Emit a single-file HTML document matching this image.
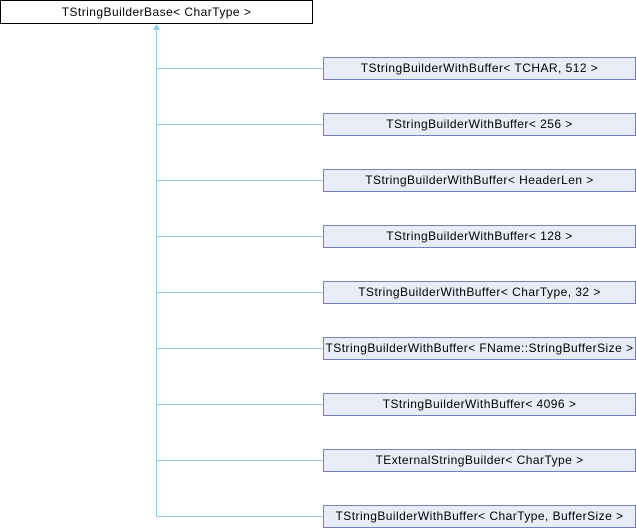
<!DOCTYPE html>
<html><head><meta charset="utf-8"><style>
body{margin:0;background:#fff;width:636px;height:528px;overflow:hidden;position:relative;font-family:"Liberation Sans",sans-serif;font-size:12px;letter-spacing:0.45px;}
.b{position:absolute;box-sizing:border-box;height:23px;line-height:21px;text-align:center;white-space:nowrap;color:#000;}
.c{left:323px;width:313px;background:#e8ecf6;border:1px solid #7282bc;}
.t{left:0;top:0;width:313px;height:24px;line-height:22px;background:#fff;border:1px solid #000;}
</style></head><body>
<svg width="636" height="528" style="position:absolute;left:0;top:0">
<g stroke="#8ecbec" stroke-width="1" fill="none">
<line x1="156.5" y1="30" x2="156.5" y2="516"/>
<line x1="156" y1="68.5" x2="323" y2="68.5"/>
<line x1="156" y1="124.5" x2="323" y2="124.5"/>
<line x1="156" y1="180.5" x2="323" y2="180.5"/>
<line x1="156" y1="236.5" x2="323" y2="236.5"/>
<line x1="156" y1="292.5" x2="323" y2="292.5"/>
<line x1="156" y1="348.5" x2="323" y2="348.5"/>
<line x1="156" y1="404.5" x2="323" y2="404.5"/>
<line x1="156" y1="460.5" x2="323" y2="460.5"/>
<line x1="156" y1="516.5" x2="323" y2="516.5"/>
</g>
<polygon points="156.5,24 153,30 160,30" fill="#8ecbec"/>
</svg>
<div class="b t">TStringBuilderBase&lt; CharType &gt;</div>
<div class="b c" style="top:57px">TStringBuilderWithBuffer&lt; TCHAR, 512 &gt;</div>
<div class="b c" style="top:113px">TStringBuilderWithBuffer&lt; 256 &gt;</div>
<div class="b c" style="top:169px">TStringBuilderWithBuffer&lt; HeaderLen &gt;</div>
<div class="b c" style="top:225px">TStringBuilderWithBuffer&lt; 128 &gt;</div>
<div class="b c" style="top:281px">TStringBuilderWithBuffer&lt; CharType, 32 &gt;</div>
<div class="b c" style="top:337px">TStringBuilderWithBuffer&lt; FName::StringBufferSize &gt;</div>
<div class="b c" style="top:393px">TStringBuilderWithBuffer&lt; 4096 &gt;</div>
<div class="b c" style="top:449px">TExternalStringBuilder&lt; CharType &gt;</div>
<div class="b c" style="top:505px">TStringBuilderWithBuffer&lt; CharType, BufferSize &gt;</div>
</body></html>
